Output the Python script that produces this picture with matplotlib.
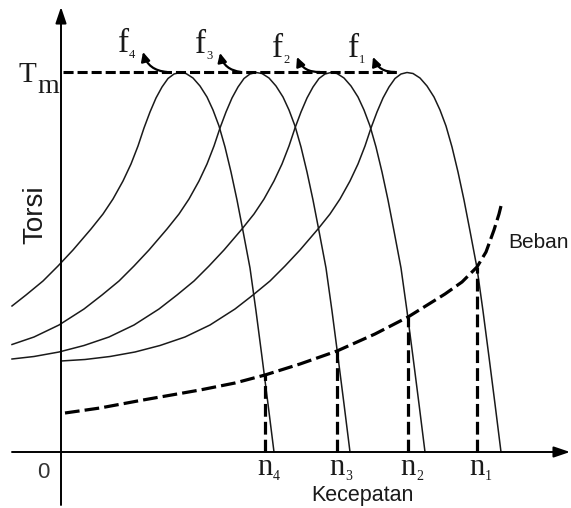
import numpy as np
import matplotlib.pyplot as plt

# Torque-speed curves of an induction motor at four supply frequencies.
# Units are arbitrary: speed to the right, torque upward, Tm = 380.
T_max = 380

# f1 curve (highest frequency)
f1_speed = [0, 24, 49, 74, 99, 124, 149, 174, 192, 209, 224, 239, 257, 269, 279,
            289, 297, 304, 310, 316, 322, 328, 334, 340, 346, 352, 359, 366, 373,
            379, 385, 391, 397, 403, 409, 416, 422, 428, 434, 440]
f1_torque = [91, 92.5, 95.5, 100, 106.5, 115, 127, 143, 157, 171, 186, 202, 223, 238,
             253, 271, 288, 306, 324, 340, 354, 365, 373.5, 378, 379.5, 378.5, 374,
             366, 355, 342, 326, 305, 280, 252, 221, 184, 141, 95, 48, 0]

# f2 curve
f2_speed = [-49, -27, -2, 23, 48, 73, 98, 116, 133, 148, 163, 181, 193, 203, 213,
            221, 228, 234, 240, 246, 252, 258, 264, 270, 276, 283, 290, 297, 303,
            309, 315, 321, 327, 333, 340, 346, 352, 358, 364]
f2_torque = [93, 95.5, 100, 106.5, 115, 127, 143, 157, 171, 186, 202, 223, 238, 253,
             271, 288, 306, 324, 340, 354, 365, 373.5, 378, 379.5, 378.5, 374, 366,
             355, 342, 326, 305, 280, 252, 221, 184, 141, 95, 48, 0]

# f3 curve
f3_speed = [-49, -27, -2, 23, 41, 58, 73, 88, 106, 118, 128, 138, 146, 153, 159,
            165, 171, 177, 183, 189, 195, 201, 208, 215, 222, 228, 234, 240, 246,
            252, 258, 265, 271, 277, 283, 289]
f3_torque = [107.5, 115, 127, 143, 157, 171, 186, 202, 223, 238, 253, 271, 288, 306,
             324, 340, 354, 365, 373.5, 378, 379.5, 378.5, 374, 366, 355, 342, 326,
             305, 280, 252, 221, 184, 141, 95, 48, 0]

# f4 curve (lowest frequency)
f4_speed = [-49, -35, -18, -3, 12, 30, 42, 52, 62, 70, 77, 83, 89, 95, 101, 107,
            113, 119, 125, 132, 139, 146, 152, 158, 164, 170, 176, 182, 189, 195,
            201, 207, 213]
f4_torque = [146, 157, 171, 186, 202, 223, 238, 253, 271, 288, 306, 324, 340, 354,
             365, 373.5, 378, 379.5, 378.5, 374, 366, 355, 342, 326, 305, 280, 252,
             221, 184, 141, 95, 48, 0]

curves = [(f1_speed, f1_torque), (f2_speed, f2_torque),
          (f3_speed, f3_torque), (f4_speed, f4_torque)]
freq_labels = ["1", "2", "3", "4"]
# where the little arrows for f1..f4 start (on the Tm line) and point to
arrow_tail_x = [334, 259, 180, 106]
arrow_tip = [(312, 395), (236, 395), (159, 399), (82, 400)]

# load torque curve (Beban)
load_speed = [4, 39, 82, 139, 174, 204, 239, 276, 314, 347, 384, 401, 416, 425,
              433, 438, 441]
load_torque = [39, 44, 52, 62, 69, 77, 88, 101, 118, 135, 158, 170, 185, 200,
               222, 238, 250]

# operating speeds n1..n4
n_speed = [416, 347, 276, 204]
n_labels = ["1", "2", "3", "4"]

serif = "Liberation Serif"
sans = "Liberation Sans"
ink = "#1a1a1a"

fig = plt.figure(figsize=(5.71, 5.08), dpi=100)
ax = fig.add_axes([0, 0, 1, 1])
ax.set_xlim(-61, 510)
ax.set_ylim(-56, 452)
ax.axis("off")

# axes with arrow heads
axis_arrow = dict(arrowstyle="-|>,head_length=0.65,head_width=0.22", color="k",
                  lw=1.4, mutation_scale=15, shrinkA=0, shrinkB=0)
ax.annotate("", xy=(0, 445), xytext=(0, -53), arrowprops=axis_arrow)
ax.annotate("", xy=(509, 0), xytext=(-49, 0), arrowprops=axis_arrow)

# motor curves
for sp, tq in curves:
    ax.plot(sp, tq, color=ink, lw=1.1, solid_joinstyle="round")

# Tm line, from the torque axis to the top of the f1 curve
peak_x = f1_speed[int(np.argmax(f1_torque))]
ax.plot([2, peak_x - 8], [T_max, T_max], color="k", lw=2.2,
        linestyle=(0, (3.3, 1.3)))

# load curve
ax.plot(load_speed, load_torque, color="k", lw=2.3, linestyle=(0, (4.6, 1.6)))

# drop lines from load intersections to the speed axis
for n in n_speed:
    top = np.interp(n, load_speed, load_torque)
    ax.plot([n, n], [0, top], color="k", lw=2.3, linestyle=(0, (4.0, 1.6)))

# frequency labels with hook arrows
for lab, tx, tip in zip(freq_labels, arrow_tail_x, arrow_tip):
    ax.annotate("", xy=tip, xytext=(tx, T_max),
                arrowprops=dict(arrowstyle="-|>,head_length=0.45,head_width=0.22",
                                color="k", lw=1.6, mutation_scale=12,
                                connectionstyle="arc3,rad=-0.35",
                                shrinkA=0, shrinkB=0))
    ax.text(tip[0] - 14, tip[1], "f", fontsize=24, family=serif, ha="right",
            va="baseline", color=ink)
    ax.text(tip[0] - 14, tip[1] - 6, lab, fontsize=9, family=serif, ha="left",
            va="baseline", color=ink)

# speed labels
for lab, n in zip(n_labels, n_speed):
    ax.text(n, -23, "n", fontsize=22, family=serif, ha="center", va="baseline",
            color=ink)
    ax.text(n + 8, -28, lab, fontsize=10, family=serif, ha="left", va="baseline",
            color=ink)

# Tm label
ax.text(-43, 370, "T", fontsize=21, family=serif, ha="left", va="baseline", color=ink)
ax.text(-24, 359, "m", fontsize=20, family=serif, ha="left", va="baseline", color=ink)

ax.text(-18, -20, "0", fontsize=16, family=sans, ha="center", va="center",
        color="#333333")
ax.text(-26, 237, "Torsi", fontsize=20, family=sans, rotation=90, ha="center",
        va="center", color=ink)
ax.text(447, 210, "Beban", fontsize=15, family=sans, ha="left", va="center",
        color=ink)
ax.text(301, -43, "Kecepatan", fontsize=15.5, family=sans, ha="center", va="center",
        color=ink)

plt.savefig("out.png", dpi=100)
